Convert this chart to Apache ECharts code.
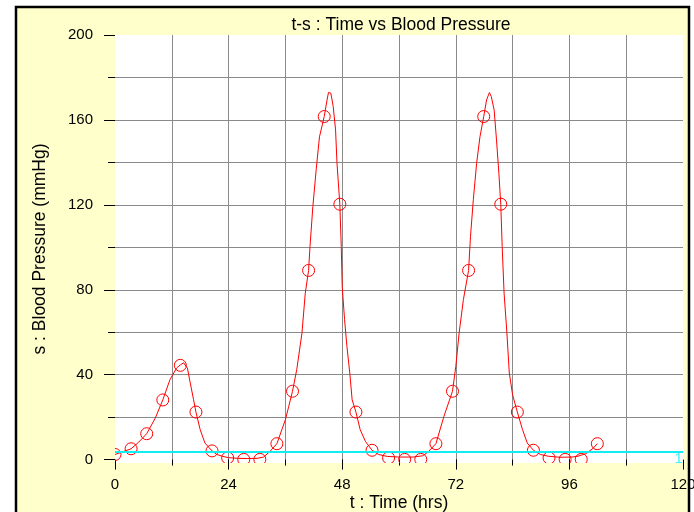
<!DOCTYPE html>
<html>
<head>
<meta charset="utf-8">
<script src="https://cdn.jsdelivr.net/npm/echarts@6/dist/echarts.min.js"></script>
<style>
html,body{margin:0;padding:0;background:#fff;}
#main{width:694px;height:512px;}
</style>
</head>
<body>
<div id="main"></div>
<script>
// simulated curve (t in hrs, s in mmHg)
var lineT = [0, 1.5, 3.4, 5.0, 6.7, 8.5, 10.1, 11.6, 13.0, 13.8, 14.5, 15.3, 15.9, 16.6, 17.1, 18.0, 19.0, 20.5, 21.5, 22.8, 24.0, 26.0, 28.0, 30.0, 31.4, 32.8,
  34.2, 36.0, 36.7, 37.5, 38.4, 39.5, 40.2, 40.9, 41.2, 41.8, 42.5, 43.2, 44.2, 44.8, 45.1, 45.6, 46.1, 46.6, 46.9, 47.5, 47.8, 48.0, 48.5, 49.0, 49.6, 50.1, 50.9, 51.8, 52.9, 54.3, 55.7, 57.5, 60.0, 63.0, 65.0, 66.1,
  67.8, 69.5, 71.3, 72.0, 72.7, 73.6, 74.7, 75.1, 75.7, 76.4, 77.1, 77.9, 78.5, 79.1, 79.5, 80.1, 80.6, 81.1, 81.5, 81.8, 82.2, 82.8, 83.3, 84.0, 85.0, 86.1, 87.1, 88.4, 89.9, 91.5, 94.0, 96.5, 97.8, 99.5, 101.0, 101.9];
var lineS = [2.4, 3.6, 5.1, 8.2, 12.2, 19.5, 28.1, 37.6, 43.1, 44.6, 45.6, 43.1, 36.1, 28.2, 22.4, 14.1, 7.8, 4.1, 2.4, 1.5, 0.9, 0.6, 0.5, 0.6, 1.2, 4.0,
  7.5, 18.8, 25.0, 32.2, 42.4, 59.6, 78.4, 89.1, 100.4, 119.2, 136.5, 152.0, 161.6, 169.4, 172.9, 172.6, 166.3, 155.3, 139.6, 120.3, 100.4, 81.6, 65.9, 53.3, 40.8, 28.2, 22.4, 14.1, 8.6, 4.4, 2.4, 1.5, 1.2, 1.2, 1.8, 3.5,
  7.5, 20.4, 32.2, 43.9, 59.6, 75.3, 89.1, 105.0, 122.4, 139.6, 152.0, 161.6, 169.4, 172.9, 171.0, 164.7, 150.6, 134.9, 120.3, 100.4, 78.4, 59.6, 40.8, 30.5, 22.4, 14.1, 7.8, 4.4, 2.4, 1.6, 1.1, 1.2, 1.6, 2.8, 5.3, 7.5];
// observed points (circles)
var markT = [0, 3.4, 6.7, 10.1, 13.8, 17.1, 20.5, 23.8, 27.2, 30.6, 34.2, 37.5, 40.9, 44.2, 47.5, 50.9, 54.3, 57.8, 61.2, 64.6, 67.8, 71.3, 74.7, 77.9, 81.5, 85.0, 88.4, 91.7, 95.1, 98.5, 101.9];
var markS = [2.4, 5.1, 12.2, 28.1, 44.4, 22.4, 4.1, 0.8, 0.1, 0.1, 7.5, 32.2, 89.1, 161.6, 120.3, 22.4, 4.4, 0.8, 0.1, 0.1, 7.5, 32.2, 89.1, 161.6, 120.3, 22.4, 4.4, 0.8, 0.1, 0.1, 7.5];
// reference level
var refS = 3.6;
var refLabel = '1';
var xLabelTicks = [0, 24, 48, 72, 96, 120];
var xGridTicks = [12, 24, 36, 48, 60, 72, 84, 96, 108];
var yLabelTicks = [0, 40, 80, 120, 160, 200];
var yGridTicks = [20, 40, 60, 80, 100, 120, 140, 160, 180];

function pairs(a, b) {
  return a.map(function (t, i) { return [t, b[i]]; });
}

var font = 'Liberation Sans, Arial, sans-serif';
var gridColor = '#8a8a8a';

var chart = echarts.init(document.getElementById('main'));
var option = {
  animation: false,
  backgroundColor: '#fff',
  textStyle: { fontFamily: font },
  graphic: [
    {
      type: 'rect', z: -10,
      shape: { x: 16, y: 7, width: 673, height: 530 },
      style: { fill: '#ffffcc', stroke: '#000', lineWidth: 2.5 }
    },
    {
      type: 'text', x: 401, y: 25, z: 10,
      style: { text: 't-s : Time vs Blood Pressure', fill: '#000', fontSize: 17.5, fontFamily: font, align: 'center', verticalAlign: 'middle' }
    }
  ],
  grid: {
    left: 115, right: 11, top: 35, bottom: 49,
    show: true, backgroundColor: '#fff', borderWidth: 0,
    outerBoundsMode: 'none'
  },
  xAxis: [
    {
      type: 'value', min: 0, max: 120, position: 'bottom',
      axisLine: { show: false, onZero: true },
      axisTick: { length: 10, customValues: xLabelTicks, lineStyle: { color: '#000' } },
      axisLabel: { customValues: xLabelTicks, fontSize: 15, color: '#000', margin: 14 },
      splitLine: { show: false },
      name: 't : Time (hrs)', nameLocation: 'middle', nameGap: 31, nameMoveOverlap: false,
      nameTextStyle: { fontSize: 17.5, color: '#000' }
    },
    {
      type: 'value', min: 0, max: 120, position: 'bottom',
      axisLine: { show: false, onZero: true },
      axisTick: { length: 6, customValues: xGridTicks, lineStyle: { color: '#000' } },
      axisLabel: { show: false },
      splitLine: { show: true, lineStyle: { color: gridColor } }
    }
  ],
  yAxis: [
    {
      type: 'value', min: -1.6, max: 200, position: 'left',
      axisLine: { show: false },
      axisTick: { length: 11, customValues: yLabelTicks, lineStyle: { color: '#000' } },
      axisLabel: { customValues: yLabelTicks, fontSize: 15, color: '#000', margin: 22 },
      splitLine: { show: false },
      name: 's : Blood Pressure (mmHg)', nameLocation: 'middle', nameGap: 66,
      nameTextStyle: { fontSize: 17.5, color: '#000' }
    },
    {
      type: 'value', min: -1.6, max: 200, position: 'left',
      axisLine: { show: false },
      axisTick: { length: 7, customValues: yGridTicks, lineStyle: { color: '#000' } },
      axisLabel: { show: false },
      splitLine: { show: true, lineStyle: { color: gridColor } }
    }
  ],
  series: [
    {
      type: 'line', data: pairs(lineT, lineS),
      symbol: 'none', showSymbol: false,
      lineStyle: { color: '#ff0000', width: 1 }, z: 2
    },
    {
      // hollow circles, clipped to the plot area like the original
      type: 'custom', data: pairs(markT, markS), clip: true, z: 3,
      renderItem: function (params, api) {
        var p = api.coord([api.value(0), api.value(1)]);
        return {
          type: 'circle',
          shape: { cx: p[0], cy: p[1], r: 6 },
          style: { fill: 'none', stroke: '#ff0000', lineWidth: 1 }
        };
      }
    },
    {
      type: 'line', data: [[0, refS], [120, refS]],
      symbol: 'none', lineStyle: { color: '#10eef4', width: 2 }, z: 4
    },
    {
      type: 'scatter', data: [[120, refS]], symbolSize: 1,
      itemStyle: { color: 'transparent' },
      label: { show: true, formatter: refLabel, position: [-8, 0], color: '#10eef4', fontSize: 15 }, z: 5
    }
  ]
};
chart.setOption(option);
</script>
</body>
</html>
